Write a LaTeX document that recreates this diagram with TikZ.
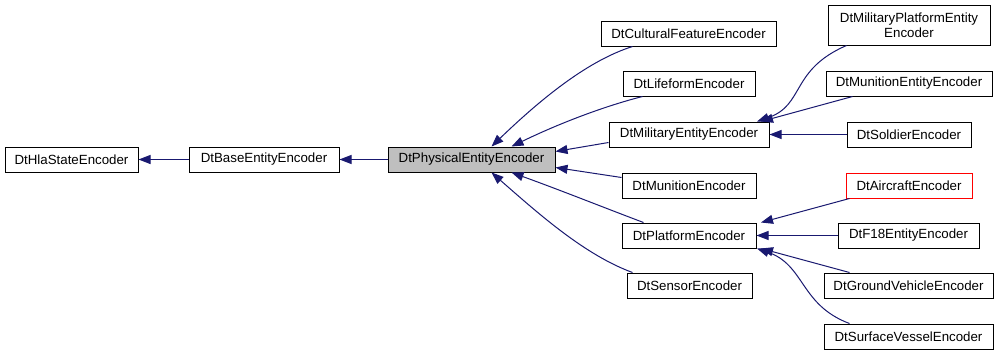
\documentclass[tikz,border=0pt]{standalone}
\usepackage{fontspec}
\setmainfont{Liberation Sans}
\usetikzlibrary{arrows.meta}
\definecolor{edgeblue}{RGB}{25,25,112}
\definecolor{physgrey}{RGB}{191,191,191}
\begin{document}
\begin{tikzpicture}[x=1pt,y=-1pt,
  cls/.style={draw=black,line width=1pt,fill=white,inner sep=0pt,minimum height=25pt,
    align=center,font=\fontsize{13.3}{15}\selectfont},
  edge/.style={draw=edgeblue,line width=1pt,-{Triangle[length=12pt,width=9pt]}}]
\useasboundingbox (0,0) rectangle (1000,356);
\fill[white] (0,0) rectangle (1000,356);
% nodes
\node[cls,minimum width=133pt] (hla) at (71.5,159.5) {DtHlaStateEncoder};
\node[cls,minimum width=150pt] (base) at (264,159.5) {DtBaseEntityEncoder};
\node[cls,minimum width=167pt,fill=physgrey] (phys) at (471.5,159.5) {DtPhysicalEntityEncoder};
\node[cls,minimum width=175pt] (cult) at (688.5,33.5) {DtCulturalFeatureEncoder};
\node[cls,minimum width=132pt] (life) at (689,83.5) {DtLifeformEncoder};
\node[cls,minimum width=160pt] (milent) at (689,134.5) {DtMilitaryEntityEncoder};
\node[cls,minimum width=134pt] (mun) at (689,185.5) {DtMunitionEncoder};
\node[cls,minimum width=134pt] (plat) at (689,235.5) {DtPlatformEncoder};
\node[cls,minimum width=125pt] (sens) at (689.5,285.5) {DtSensorEncoder};
\node[cls,minimum width=162pt,minimum height=40pt] (milplat) at (909,25) {DtMilitaryPlatformEntity\\Encoder};
\node[cls,minimum width=166pt] (munent) at (909,83.5) {DtMunitionEntityEncoder};
\node[cls,minimum width=124pt] (sold) at (909,134.5) {DtSoldierEncoder};
\node[cls,minimum width=126pt,draw=red] (air) at (909,185.5) {DtAircraftEncoder};
\node[cls,minimum width=141pt] (f18) at (908.5,235.5) {DtF18EntityEncoder};
\node[cls,minimum width=169pt] (ground) at (908.5,285.5) {DtGroundVehicleEncoder};
\node[cls,minimum width=169pt] (surf) at (908.5,336.5) {DtSurfaceVesselEncoder};
% edges
\draw[edge] (base.west) -- (hla.east);
\draw[edge] (phys.west) -- (base.east);
\draw[edge] ([xshift=32pt]cult.south west) .. controls (590,60) and (545,95) .. ([xshift=20pt]phys.north);
\draw[edge] ([xshift=20pt]life.south west) .. controls (605,106) and (560,123) .. ([xshift=40pt]phys.north);
\draw[edge] ([yshift=-8pt]milent.west) -- ([yshift=8pt]phys.east);
\draw[edge] ([yshift=8pt]mun.west) -- ([yshift=-8pt]phys.east);
\draw[edge] ([xshift=22pt]plat.north west) .. controls (605,208) and (560,190) .. ([xshift=40pt]phys.south);
\draw[edge] ([xshift=6pt]sens.north west) .. controls (585,255) and (540,215) .. ([xshift=20pt]phys.south);
\draw[edge] ([xshift=19pt]milplat.south west) .. controls (790,70) and (805,105) .. ([xshift=68pt]milent.north);
\draw[edge] ([xshift=27pt]munent.south west) -- ([xshift=72pt]milent.north);
\draw[edge] (sold.west) -- (milent.east);
\draw[edge] ([xshift=4pt]air.south west) -- ([xshift=72pt]plat.north);
\draw[edge] (f18.west) -- (plat.east);
\draw[edge] ([xshift=26pt]ground.north west) -- ([xshift=72pt]plat.south);
\draw[edge] ([xshift=26pt]surf.north west) .. controls (800,305) and (805,265) .. ([xshift=68pt]plat.south);
\end{tikzpicture}
\end{document}
